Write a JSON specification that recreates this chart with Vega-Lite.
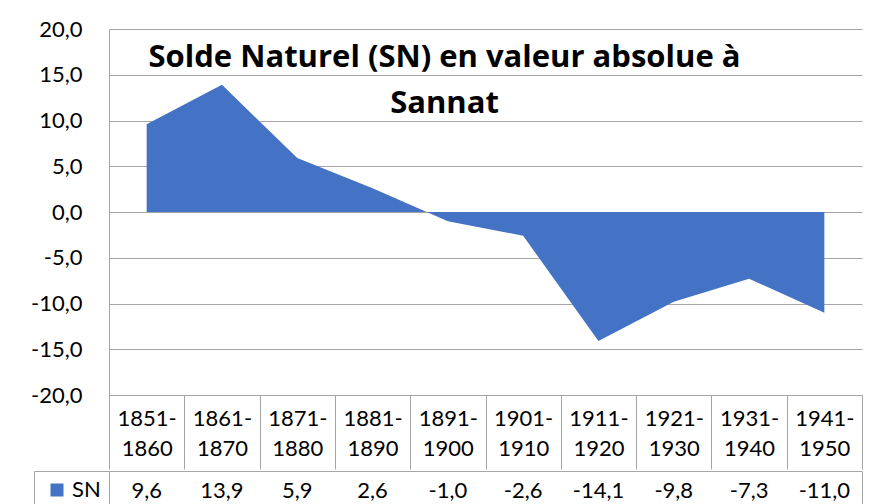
{
  "$schema": "https://vega.github.io/schema/vega-lite/v6.json",
  "padding": {"left": 30, "top": 18, "right": 8, "bottom": 0},
  "spacing": 0,
  "background": "white",
  "resolve": {"scale": {"color": "independent"}, "legend": {"color": "independent"}},
  "config": {
    "locale": {"number": {"decimal": ",", "thousands": " ", "grouping": [3], "currency": ["", " €"], "minus": "-"}},
    "font": "Lato",
    "view": {"stroke": null}
  },
  "datasets": {
    "sn": [
      {"period": "1851-1860", "SN": 9.6, "series": "SN"},
      {"period": "1861-1870", "SN": 13.9, "series": "SN"},
      {"period": "1871-1880", "SN": 5.9, "series": "SN"},
      {"period": "1881-1890", "SN": 2.6, "series": "SN"},
      {"period": "1891-1900", "SN": -1.0, "series": "SN"},
      {"period": "1901-1910", "SN": -2.6, "series": "SN"},
      {"period": "1911-1920", "SN": -14.1, "series": "SN"},
      {"period": "1921-1930", "SN": -9.8, "series": "SN"},
      {"period": "1931-1940", "SN": -7.3, "series": "SN"},
      {"period": "1941-1950", "SN": -11.0, "series": "SN"}
    ]
  },
  "vconcat": [
    {
      "width": 753,
      "height": 366,
      "title": {
        "text": ["Solde Naturel (SN) en valeur absolue à", "Sannat"],
        "fontSize": 31,
        "fontWeight": "bold",
        "font": "Open Sans",
        "color": "black",
        "lineHeight": 46,
        "frame": "group",
        "anchor": "middle",
        "offset": -102,
        "dx": -41
      },
      "data": {"name": "sn"},
      "mark": {"type": "area", "color": "#4472c4", "opacity": 1},
      "encoding": {
        "x": {
          "field": "period", "type": "nominal", "sort": null, "bandPosition": 0.5,
          "scale": {"type": "band", "paddingInner": 0, "paddingOuter": 0},
          "axis": {
            "title": null, "tickBand": "extent", "ticks": true, "tickSize": 74,
            "tickColor": "#a6a6a6", "tickWidth": 1, "domain": true, "domainColor": "#a6a6a6",
            "grid": false, "labelAngle": 0,
            "labelExpr": "[slice(datum.label,0,5), slice(datum.label,5)]",
            "labelPadding": -61, "labelFontSize": 22, "labelLineHeight": 30,
            "labelColor": "black", "labelFont": "Lato", "labelBaseline": "top"
          }
        },
        "y": {
          "field": "SN", "type": "quantitative",
          "scale": {"domain": [-20, 20], "nice": false},
          "axis": {
            "title": null, "values": [-20, -15, -10, -5, 0, 5, 10, 15, 20], "format": ".1f",
            "grid": true, "gridColor": "#a6a6a6", "domain": true, "domainColor": "#a6a6a6",
            "ticks": false, "tickSize": 0, "labelPadding": 27, "labelFontSize": 22,
            "labelColor": "black", "labelFont": "Lato"
          }
        }
      }
    },
    {
      "width": 753,
      "height": 35,
      "view": {"stroke": "#a6a6a6"},
      "data": {"name": "sn"},
      "layer": [
        {
          "mark": {"type": "text", "fontSize": 22, "color": "black", "dy": 2, "font": "Lato"},
          "encoding": {
            "x": {
              "field": "period", "type": "nominal", "sort": null,
              "scale": {"type": "band", "paddingInner": 0, "paddingOuter": 0},
              "axis": {
                "title": null, "tickBand": "extent", "grid": true, "gridColor": "#a6a6a6",
                "labels": false, "ticks": false, "domain": false
              }
            },
            "text": {"field": "SN", "type": "quantitative", "format": ".1f"}
          }
        },
        {
          "mark": {"type": "square", "opacity": 0},
          "encoding": {
            "x": {"field": "period", "type": "nominal", "sort": null, "axis": null},
            "color": {
              "field": "series", "type": "nominal",
              "scale": {"range": ["#4472c4"]},
              "legend": {
                "orient": "left", "offset": 0, "title": null, "symbolType": "square",
                "symbolSize": 169, "symbolOpacity": 1, "symbolStrokeWidth": 0,
                "labelFontSize": 22, "labelColor": "black", "labelFont": "Lato",
                "strokeColor": "#a6a6a6", "padding": 8, "symbolOffset": 4, "labelOffset": 4
              }
            }
          }
        }
      ]
    }
  ]
}
